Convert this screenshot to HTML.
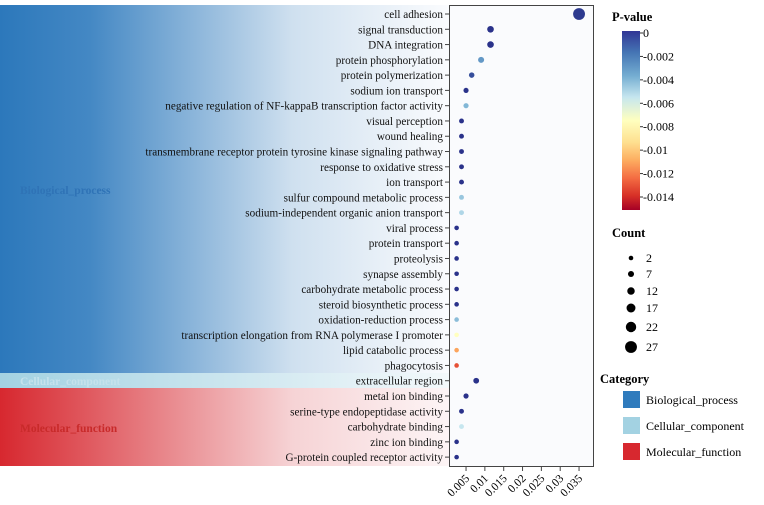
<!DOCTYPE html>
<html><head><meta charset="utf-8"><style>
body{margin:0;background:#fff;}
svg{display:block;font-family:"Liberation Serif",serif;}
</style></head><body>
<svg id="chart" width="764" height="505" viewBox="0 0 764 505">
<defs>
<linearGradient id="gBP" x1="0" x2="1"><stop offset="0" stop-color="#2c78bb"/><stop offset="0.2" stop-color="#4488c4"/><stop offset="0.65" stop-color="#cfe0ef"/><stop offset="1" stop-color="#fbfcfe"/></linearGradient>
<linearGradient id="gCC" x1="0" x2="1"><stop offset="0" stop-color="#a3d2e2"/><stop offset="1" stop-color="#f4f9fb"/></linearGradient>
<linearGradient id="gMF" x1="0" x2="1"><stop offset="0" stop-color="#d7282f"/><stop offset="0.2" stop-color="#e05a60"/><stop offset="0.65" stop-color="#f6d3d5"/><stop offset="1" stop-color="#fdf5f6"/></linearGradient>
<linearGradient id="gCB" x1="0" x2="0" y1="0" y2="1">
<stop offset="0" stop-color="#313695"/><stop offset="0.12" stop-color="#4575b4"/><stop offset="0.25" stop-color="#74add1"/><stop offset="0.37" stop-color="#c6e6ef"/><stop offset="0.5" stop-color="#ffffbf"/><stop offset="0.62" stop-color="#fee090"/><stop offset="0.72" stop-color="#fdae61"/><stop offset="0.82" stop-color="#f46d43"/><stop offset="0.92" stop-color="#d73027"/><stop offset="1" stop-color="#a50026"/></linearGradient>
</defs>
<rect x="0" y="5" width="450" height="368" fill="url(#gBP)"/>
<rect x="0" y="373" width="450" height="15" fill="url(#gCC)"/>
<rect x="0" y="388" width="450" height="78" fill="url(#gMF)"/>
<text x="20" y="194" font-size="11.5" font-weight="bold" fill="#2f73b6">Biological_process</text>
<text x="20" y="385" font-size="11.5" font-weight="bold" fill="#c5e2ec">Cellular_component</text>
<text x="20" y="432" font-size="11.5" font-weight="bold" fill="#c82a2a">Molecular_function</text>
<rect x="449.5" y="5.5" width="144" height="461" fill="#fafbfd" stroke="#444" stroke-width="1"/>
<g id="rows"></g><g id="xaxis"></g><g id="dots"></g>

<text x="612" y="21" font-size="12.5" font-weight="bold">P-value</text>
<rect x="622" y="31" width="18" height="179" fill="url(#gCB)"/>
<g id="cbticks" font-size="12"></g>
<text x="612" y="237" font-size="12.5" font-weight="bold">Count</text>
<g id="countleg" font-size="12"></g>
<text x="600" y="383" font-size="12.5" font-weight="bold">Category</text>
<g font-size="12">
<rect x="623" y="391" width="17" height="17" fill="#2f7bbd"/><text x="646" y="404">Biological_process</text>
<rect x="623" y="417" width="17" height="17" fill="#a3d2e2"/><text x="646" y="430">Cellular_component</text>
<rect x="623" y="443" width="17" height="17" fill="#d7282f"/><text x="646" y="456">Molecular_function</text>
</g>
</svg>
<script>
const terms=["cell adhesion","signal transduction","DNA integration","protein phosphorylation","protein polymerization","sodium ion transport","negative regulation of NF-kappaB transcription factor activity","visual perception","wound healing","transmembrane receptor protein tyrosine kinase signaling pathway","response to oxidative stress","ion transport","sulfur compound metabolic process","sodium-independent organic anion transport","viral process","protein transport","proteolysis","synapse assembly","carbohydrate metabolic process","steroid biosynthetic process","oxidation-reduction process","transcription elongation from RNA polymerase I promoter","lipid catabolic process","phagocytosis","extracellular region","metal ion binding","serine-type endopeptidase activity","carbohydrate binding","zinc ion binding","G-protein coupled receptor activity"];
const ratios=[0.035,0.0115,0.0115,0.009,0.0065,0.005,0.005,0.0038,0.0038,0.0038,0.0038,0.0038,0.0038,0.0038,0.0025,0.0025,0.0025,0.0025,0.0025,0.0025,0.0025,0.0025,0.0025,0.0025,0.0077,0.005,0.0038,0.0038,0.0025,0.0025];
const counts=[27,9,9,7,5,4,4,3,3,3,3,3,3,3,2,2,2,2,2,2,2,2,2,2,6,4,3,3,2,2];
const pvals=[0.0003,0.0001,0.0001,0.003,0.0008,0.0001,0.004,0.0001,0.0001,0.0001,0.0001,0.0001,0.0045,0.005,0.0001,0.0001,0.0001,0.0001,0.0001,0.0001,0.0042,0.0075,0.011,0.013,0.0001,0.0001,0.0001,0.0055,0.0001,0.0001];
const xTicks=[0.005,0.01,0.015,0.02,0.025,0.03,0.035];
const xTickLabels=["0.005","0.01","0.015","0.02","0.025","0.03","0.035"];
const cbTicks=[0,0.002,0.004,0.006,0.008,0.01,0.012,0.014];
const cbLabels=["0","-0.002","-0.004","-0.006","-0.008","-0.01","-0.012","-0.014"];
const countLegend=[2,7,12,17,22,27];

const NS="http://www.w3.org/2000/svg";
const xS=v=>447.2+v*3767;
const yS=i=>14+i*15.28;
const rS=c=>2.3+(c-2)*0.145;
const cbY=p=>33+p*(197-33)/0.014;
const stops=[[0,[40,46,135]],[0.0018,[69,117,180]],[0.0037,[116,173,209]],[0.0055,[198,230,239]],[0.0075,[255,255,191]],[0.0093,[254,224,144]],[0.0108,[253,174,97]],[0.0123,[244,109,67]],[0.0138,[215,48,39]],[0.015,[165,0,38]]];
function col(p){for(let i=1;i<stops.length;i++){if(p<=stops[i][0]){const a=stops[i-1],b=stops[i],t=(p-a[0])/(b[0]-a[0]);return "rgb("+a[1].map((v,k)=>Math.round(v+(b[1][k]-v)*t)).join(",")+")";}}return "rgb(165,0,38)";}
function mk(tag,attrs,parent,txt){const e=document.createElementNS(NS,tag);for(const k in attrs)e.setAttribute(k,attrs[k]);if(txt!==undefined)e.textContent=txt;parent.appendChild(e);return e;}
const rows=document.getElementById('rows'),dots=document.getElementById('dots'),xa=document.getElementById('xaxis');
terms.forEach((t,i)=>{
  const y=yS(i);
  const l=mk('text',{x:443,y:y+4,'font-size':11.2,'text-anchor':'end',fill:'#111'},rows,t);
  
  
  const tk=mk('line',{x1:445,x2:449.5,y1:y,y2:y,stroke:'#444'},rows);
  
  
  const c=mk('circle',{cx:xS(ratios[i]),cy:y,r:rS(counts[i]),fill:col(pvals[i])},dots);
  
  
});
xTicks.forEach((v,i)=>{
  const x=xS(v);
  const tk=mk('line',{x1:x,x2:x,y1:466.5,y2:471,stroke:'#444'},xa);
  
  
  const lb=mk('text',{x:x+4,y:479,'font-size':11.5,'text-anchor':'end',transform:'rotate(-45 '+(x+4)+' 479)'},xa,xTickLabels[i]);
  
  
});
const cb=document.getElementById('cbticks');
cbTicks.forEach((v,i)=>{
  const y=cbY(v);
  const tk=mk('line',{x1:640,x2:643,y1:y,y2:y,stroke:'#333'},cb);
  
  
  const lb=mk('text',{x:643,y:y+4},cb,cbLabels[i]);
  
  
});
const cl=document.getElementById('countleg');
const cly=[258,274,291,308,327,347];
countLegend.forEach((c,i)=>{
  const d=mk('circle',{cx:631,cy:cly[i],r:rS(c),fill:'#000'},cl);
  
  
  const lb=mk('text',{x:646,y:cly[i]+4},cl,String(c));
  
  
});
</script>
</body></html>
